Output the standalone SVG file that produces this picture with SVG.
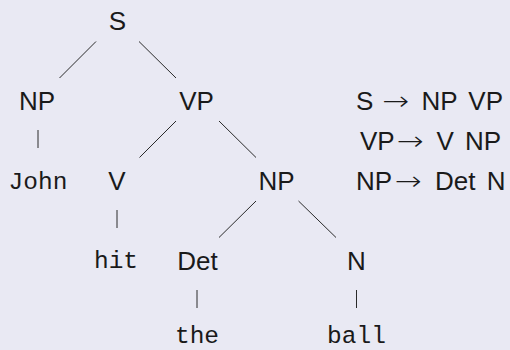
<svg xmlns="http://www.w3.org/2000/svg" width="510" height="350" viewBox="0 0 510 350">
<style>
.cat{font-family:"Liberation Sans",Arial,sans-serif;font-size:26px;fill:#1a1a1a;text-anchor:middle}
.word{font-family:"Liberation Mono","Courier New",monospace;font-size:24.5px;fill:#1a1a1a;text-anchor:middle}
.rule{font-family:"Liberation Sans",Arial,sans-serif;font-size:26px;fill:#1a1a1a;word-spacing:4px}
.arr{font-family:"DejaVu Sans",sans-serif;font-weight:200;font-size:26px;fill:#1a1a1a}
.edge{stroke:#2a2a2a;stroke-width:1;fill:none}
</style>
<rect width="510" height="350" fill="#e9e9f3"/>
<g id="connectors" class="edge">
<line x1="96" y1="41.5" x2="59.5" y2="78"/>
<line x1="139" y1="41.5" x2="176" y2="78"/>
<line x1="38" y1="130" x2="38" y2="148"/>
<line x1="176" y1="121" x2="139.5" y2="157.5"/>
<line x1="219" y1="121" x2="256" y2="157.5"/>
<line x1="117" y1="210" x2="117" y2="228"/>
<line x1="256" y1="201" x2="219" y2="237.5"/>
<line x1="298.5" y1="201" x2="336" y2="237.5"/>
<line x1="197" y1="290" x2="197" y2="308"/>
<line x1="356.5" y1="290" x2="356.5" y2="308"/>
</g>
<g id="n-S"><text class="cat" x="117.5" y="30">S</text></g>
<g id="n-NP1"><text class="cat" x="37" y="110">NP</text></g>
<g id="n-VP"><text class="cat" x="196.5" y="110">VP</text></g>
<g id="n-John"><text class="word" x="38" y="189">John</text></g>
<g id="n-V"><text class="cat" x="117" y="190">V</text></g>
<g id="n-NP2"><text class="cat" x="276.5" y="190">NP</text></g>
<g id="n-hit"><text class="word" x="116" y="268">hit</text></g>
<g id="n-Det"><text class="cat" x="197.5" y="270">Det</text></g>
<g id="n-N"><text class="cat" x="356.5" y="270">N</text></g>
<g id="n-the"><text class="word" x="197" y="342.5">the</text></g>
<g id="n-ball"><text class="word" x="356.5" y="342.5">ball</text></g>
<g id="rules">
<text class="rule" x="356" y="110">S</text>
<text class="arr" x="382.5" y="110" textLength="27" lengthAdjust="spacingAndGlyphs">→</text>
<text class="rule" x="421.5" y="110">NP VP</text>
<text class="rule" x="360" y="150">VP</text>
<text class="arr" x="397" y="150" textLength="27" lengthAdjust="spacingAndGlyphs">→</text>
<text class="rule" x="436.5" y="150">V NP</text>
<text class="rule" x="356" y="190">NP</text>
<text class="arr" x="395" y="190" textLength="27" lengthAdjust="spacingAndGlyphs">→</text>
<text class="rule" x="435" y="190">Det N</text>
</g>
</svg>
